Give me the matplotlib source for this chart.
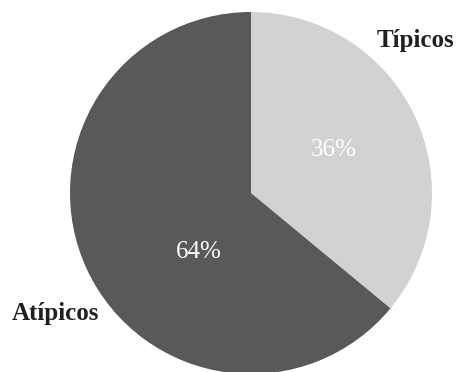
import matplotlib
matplotlib.use("Agg")
import matplotlib.pyplot as plt

categories = ["Típicos", "Atípicos"]
values = [36, 64]
colors = ["#d1d2d3", "#58595b"]

plt.rcParams['font.family'] = ['Liberation Serif', 'DejaVu Serif']

fig = plt.figure(figsize=(4.59, 3.72), dpi=100)
# pie centre at (251, 193) px, radius 181 px
cx, cy, r = 251, 193, 181
W, H = 459, 372
ax = fig.add_axes([(cx - r) / W, (H - cy - r) / H, 2 * r / W, 2 * r / H])

ax.pie(values, colors=colors, startangle=90, counterclock=False, radius=1,
       wedgeprops=dict(linewidth=0))
ax.set_xlim(-1, 1)
ax.set_ylim(-1, 1)
ax.set_aspect("equal")
ax.axis("off")

# category labels outside
ax.text(0.91, 0.84, categories[0], ha="center", va="center",
        fontsize=18, fontweight="bold", color="#231f20", clip_on=False)
ax.text(-1.083, -0.663, categories[1], ha="center", va="center",
        fontsize=18, fontweight="bold", color="#231f20", clip_on=False)

# percentages inside
ax.text(0.459, 0.238, f"{values[0]}%", ha="center", va="center",
        fontsize=18, color="white")
ax.text(-0.287, -0.326, f"{values[1]}%", ha="center", va="center",
        fontsize=18, color="white")

fig.savefig("out.png", dpi=100)
